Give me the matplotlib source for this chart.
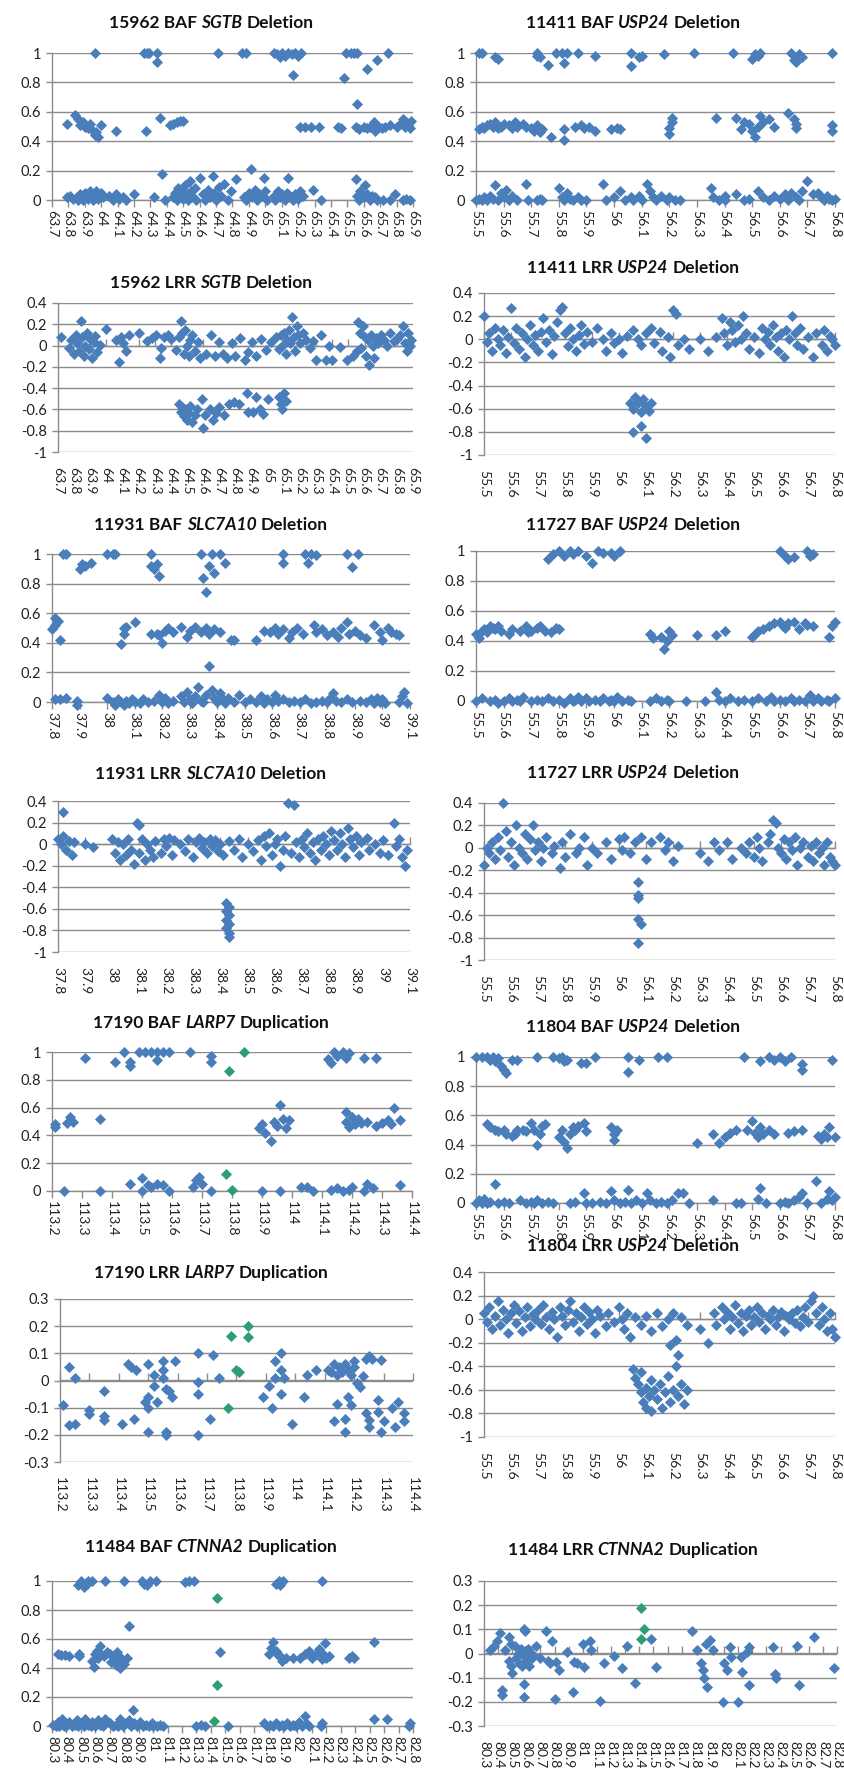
import matplotlib
matplotlib.use("Agg")
import matplotlib.pyplot as plt

plt.rcParams['font.family'] = ['Lato', 'DejaVu Sans']

BLUE = '#4A7EBB'
GREEN = '#2E9E72'
GRID = '#8C8C8C'
TXT = '#222222'

# ---------------- tick labels ----------------
x_sgtb = ['63.7','63.8','63.9','64','64.1','64.2','64.3','64.4','64.5','64.6','64.7','64.8',
          '64.9','65','65.1','65.2','65.3','65.4','65.5','65.6','65.7','65.8','65.9']
x_slc = ['37.8','37.9','38','38.1','38.2','38.3','38.4','38.5','38.6','38.7','38.8','38.9','39','39.1']
x_larp = ['113.2','113.3','113.4','113.5','113.6','113.7','113.8','113.9','114','114.1','114.2','114.3','114.4']
x_ctn = ['80.3','80.4','80.5','80.6','80.7','80.8','80.9','81','81.1','81.2','81.3','81.4','81.5',
         '81.6','81.7','81.8','81.9','82','82.1','82.2','82.3','82.4','82.5','82.6','82.7','82.8']
x_usp = ['55.5','55.6','55.7','55.8','55.9','56','56.1','56.2','56.3','56.4','56.5','56.6','56.7','56.8']
y_baf = ['0','0.2','0.4','0.6','0.8','1']
y_lrr = ['-1','-0.8','-0.6','-0.4','-0.2','0','0.2','0.4']
y_lrr3 = ['-0.3','-0.2','-0.1','0','0.1','0.2','0.3']

# ---------------- data: (position Mb, value) ----------------
baf_15962 = [(63.96,1),(64.26,1),(64.28,1),(64.29,1),(64.34,1),(64.34,0.94),(64.71,1),(64.86,1),(64.88,1),
    (65.05,1),(65.07,0.99),(65.09,0.97),(65.1,1),(65.12,0.98),(65.14,1),(65.16,0.99),(65.18,1),(65.2,0.98),
    (65.22,1),(65.17,0.85),(65.48,0.83),(65.49,1),(65.52,1),(65.54,1),(65.56,1),(65.62,0.89),(65.68,0.95),(65.75,1),
    (63.79,0.52),(63.84,0.58),(63.86,0.55),(63.87,0.51),(63.89,0.53),(63.9,0.5),(63.92,0.49),(63.93,0.52),
    (63.95,0.47),(63.96,0.44),(63.97,0.46),(63.98,0.43),(64.0,0.51),(64.09,0.47),(64.27,0.47),(64.36,0.56),
    (64.42,0.51),(64.44,0.52),(64.46,0.53),(64.48,0.54),(64.5,0.54),(65.21,0.5),(65.24,0.5),(65.28,0.5),
    (65.33,0.5),(65.44,0.5),(65.46,0.49),(65.56,0.65),(65.55,0.5),(65.57,0.48),(65.6,0.5),(65.62,0.49),
    (65.64,0.5),(65.66,0.53),(65.67,0.47),(65.69,0.5),(65.71,0.49),(65.73,0.5),(65.76,0.51),(65.8,0.5),
    (65.82,0.52),(65.84,0.55),(65.85,0.5),(65.86,0.53),(65.87,0.51),(65.88,0.49),(65.89,0.54),
    (63.79,0.02),(63.81,0.03),(63.83,0.01),(63.85,0.02),(63.86,0.0),(63.87,0.04),(63.88,0.02),(63.89,0.0),
    (63.9,0.05),(63.91,0.03),(63.92,0.01),(63.93,0.06),(63.94,0.02),(63.95,0.0),(63.96,0.04),(63.97,0.06),
    (63.98,0.01),(63.99,0.03),(64.0,0.05),(64.01,0.02),(64.05,0.03),(64.07,0.0),(64.09,0.04),(64.11,0.01),
    (64.13,0.02),(64.15,0.0),(64.2,0.04),(64.32,0.02),(64.37,0.18),(64.39,0.0),(64.44,0.02),(64.45,0.05),
    (64.46,0.0),(64.47,0.08),(64.48,0.03),(64.49,0.06),(64.5,0.01),(64.51,0.1),(64.52,0.04),(64.53,0.0),
    (64.54,0.13),(64.55,0.06),(64.56,0.02),(64.57,0.08),(64.58,0.0),(64.6,0.15),(64.62,0.04),(64.63,0.0),
    (64.65,0.07),(64.66,0.02),(64.68,0.16),(64.69,0.05),(64.7,0.0),(64.72,0.09),(64.73,0.03),(64.75,0.11),
    (64.77,0.0),(64.79,0.06),(64.82,0.14),(64.87,0.02),(64.88,0.0),(64.9,0.05),(64.91,0.21),(64.92,0.02),
    (64.94,0.07),(64.95,0.0),(64.96,0.04),(64.98,0.03),(64.99,0.15),(65.0,0.06),(65.01,0.0),(65.05,0.03),
    (65.06,0.0),(65.08,0.06),(65.09,0.02),(65.1,0.04),(65.12,0.0),(65.13,0.05),(65.14,0.15),(65.15,0.02),
    (65.17,0.0),(65.18,0.04),(65.2,0.01),(65.21,0.06),(65.23,0.03),(65.29,0.07),(65.34,0.0),(65.55,0.14),
    (65.56,0.03),(65.57,0.0),(65.58,0.06),(65.6,0.02),(65.61,0.1),(65.62,0.04),(65.64,0.0),(65.65,0.03),
    (65.67,0.02),(65.68,0.0),(65.72,0.0),(65.76,0.0),(65.79,0.04),(65.84,0.0),(65.86,0.01),(65.88,0.0)]

lrr_15962 = [(63.72,0.08),(63.77,-0.02),(63.78,0.05),(63.8,-0.08),(63.81,0.1),(63.82,0.02),(63.83,-0.05),
    (63.84,0.23),(63.85,0.08),(63.86,-0.1),(63.87,0.0),(63.88,0.12),(63.89,-0.03),(63.9,0.06),(63.91,-0.12),
    (63.92,0.03),(63.93,0.09),(63.94,-0.06),(63.96,0.01),(64.0,0.16),(64.06,0.05),(64.08,-0.15),(64.09,0.08),
    (64.1,0.02),(64.12,-0.05),(64.14,0.1),(64.2,0.12),(64.25,0.04),(64.28,0.07),(64.31,0.1),(64.33,-0.12),
    (64.34,-0.02),(64.36,0.08),(64.38,0.1),(64.4,0.06),(64.43,-0.04),(64.45,0.08),(64.46,0.23),(64.47,0.12),
    (64.48,-0.08),(64.49,0.15),(64.5,0.0),(64.51,-0.1),(64.52,0.05),(64.53,0.1),(64.55,-0.05),(64.57,0.03),
    (64.58,-0.12),(64.62,-0.08),(64.65,0.1),(64.67,-0.1),(64.7,0.03),(64.72,-0.08),(64.75,-0.12),(64.78,0.02),
    (64.8,-0.1),(64.83,0.07),(64.86,-0.14),(64.88,-0.06),(64.9,0.03),(64.93,-0.1),(64.96,0.06),(64.99,-0.04),
    (65.02,0.03),(65.05,0.08),(65.07,-0.03),(65.08,0.1),(65.09,0.0),(65.1,0.12),(65.11,-0.08),(65.12,0.05),
    (65.13,0.15),(65.14,0.02),(65.15,0.27),(65.16,0.08),(65.17,-0.05),(65.18,0.18),(65.19,0.1),(65.2,0.02),
    (65.22,0.12),(65.24,0.05),(65.26,-0.02),(65.28,0.04),(65.3,-0.14),(65.33,0.1),(65.36,-0.14),(65.38,0.0),
    (65.4,-0.14),(65.45,-0.01),(65.49,-0.14),(65.53,-0.1),(65.55,-0.05),(65.56,0.22),(65.57,0.12),(65.58,-0.02),
    (65.59,0.18),(65.6,0.08),(65.61,-0.1),(65.62,0.05),(65.63,-0.18),(65.64,0.1),(65.65,0.0),(65.66,-0.12),
    (65.67,0.07),(65.68,0.02),(65.7,0.1),(65.72,0.05),(65.74,0.0),(65.76,0.12),(65.78,0.04),(65.8,0.06),
    (65.82,0.1),(65.84,0.18),(65.85,0.02),(65.86,-0.05),(65.87,0.12),(65.88,0.0),(65.89,0.05),
    (64.45,-0.55),(64.46,-0.62),(64.47,-0.58),(64.48,-0.66),(64.49,-0.6),(64.5,-0.7),(64.51,-0.63),
    (64.52,-0.57),(64.53,-0.72),(64.55,-0.65),(64.56,-0.6),(64.59,-0.5),(64.6,-0.77),(64.61,-0.65),
    (64.64,-0.6),(64.66,-0.7),(64.68,-0.63),(64.7,-0.58),(64.73,-0.65),(64.76,-0.55),(64.79,-0.53),
    (64.82,-0.55),(64.87,-0.45),(64.88,-0.62),(64.91,-0.62),(64.93,-0.48),(64.95,-0.6),(64.97,-0.64),
    (65.0,-0.5),(65.07,-0.48),(65.08,-0.55),(65.09,-0.6),(65.1,-0.45),(65.11,-0.52)]

baf_11931 = [(37.84,1.0),(37.85,1.0),(37.9,0.9),(37.91,0.93),(37.92,0.92),(37.94,0.94),(38.0,1.0),(38.02,1.0),
    (38.03,1.0),(38.16,1.0),(38.16,0.92),(38.17,0.9),(38.18,0.93),(38.19,0.85),(38.34,1.0),(38.35,0.84),
    (38.36,0.74),(38.37,0.92),(38.38,1.0),(38.39,0.87),(38.41,1.0),(38.43,0.94),(38.64,0.94),(38.64,1.0),
    (38.72,1.0),(38.73,0.94),(38.74,1.0),(38.76,0.99),(38.87,1.0),(38.89,0.91),(38.91,1.0),
    (37.8,0.49),(37.81,0.57),(37.81,0.52),(37.82,0.55),(37.83,0.42),(38.05,0.39),(38.06,0.46),(38.06,0.5),
    (38.07,0.51),(38.1,0.54),(38.16,0.46),(38.18,0.46),(38.19,0.45),(38.2,0.4),(38.21,0.48),(38.22,0.5),
    (38.24,0.47),(38.27,0.51),(38.29,0.44),(38.3,0.48),(38.32,0.51),(38.34,0.47),(38.36,0.5),(38.37,0.46),
    (38.39,0.49),(38.41,0.47),(38.45,0.42),(38.46,0.42),(38.54,0.42),(38.57,0.48),(38.59,0.47),(38.61,0.5),
    (38.62,0.46),(38.64,0.49),(38.66,0.43),(38.67,0.47),(38.69,0.5),(38.71,0.46),(38.75,0.52),(38.76,0.47),
    (38.78,0.49),(38.8,0.45),(38.82,0.47),(38.84,0.44),(38.85,0.5),(38.87,0.54),(38.88,0.46),(38.9,0.48),
    (38.92,0.45),(38.94,0.43),(38.97,0.52),(38.99,0.47),(39.0,0.42),(39.02,0.5),(39.03,0.47),(39.05,0.46),
    (39.06,0.45),
    (37.81,0.02),(37.83,0.02),(37.85,0.03),(37.89,0.01),(37.89,-0.02),(38.0,0.03),(38.02,0.0),(38.03,-0.02),
    (38.04,0.02),(38.05,0.0),(38.06,-0.02),(38.07,0.01),(38.08,-0.01),(38.09,0.02),(38.1,0.0),(38.12,-0.01),
    (38.13,0.02),(38.15,0.0),(38.17,0.01),(38.19,0.05),(38.2,0.0),(38.21,0.03),(38.22,-0.01),(38.24,0.01),
    (38.27,0.04),(38.28,0.0),(38.29,0.07),(38.3,0.02),(38.31,-0.01),(38.32,0.04),(38.33,0.1),(38.34,0.01),
    (38.35,0.0),(38.36,0.05),(38.37,0.24),(38.38,0.08),(38.39,0.03),(38.4,0.0),(38.41,0.06),(38.42,0.02),
    (38.43,-0.01),(38.44,0.03),(38.46,0.0),(38.48,0.05),(38.5,0.0),(38.52,0.02),(38.54,0.0),(38.56,0.04),
    (38.57,-0.01),(38.58,0.02),(38.6,0.0),(38.61,0.05),(38.62,0.01),(38.64,0.02),(38.66,0.0),(38.68,0.01),
    (38.7,0.0),(38.72,0.02),(38.74,-0.01),(38.76,0.0),(38.78,0.01),(38.8,0.0),(38.81,0.03),(38.82,0.06),
    (38.83,0.01),(38.85,0.0),(38.87,0.02),(38.89,0.0),(38.92,0.01),(38.94,0.0),(38.96,0.02),(38.97,-0.01),
    (38.98,0.03),(38.99,0.0),(39.0,0.02),(39.01,-0.01),(39.06,0.0),(39.07,0.04),(39.08,0.07),(39.09,-0.01)]

lrr_11931 = [(37.8,0.05),(37.81,0.0),(37.82,0.3),(37.82,0.08),(37.83,-0.05),(37.84,0.03),(37.85,-0.1),
    (37.86,0.02),(37.9,0.0),(37.93,-0.03),(38.0,0.05),(38.01,-0.08),(38.02,0.02),(38.03,-0.15),(38.04,0.0),
    (38.05,-0.1),(38.06,0.05),(38.07,-0.05),(38.08,-0.18),(38.09,0.2),(38.1,0.18),(38.1,-0.08),(38.11,0.05),
    (38.12,-0.15),(38.13,0.0),(38.14,-0.05),(38.15,-0.12),(38.16,0.03),(38.18,-0.08),(38.19,0.05),(38.2,-0.02),
    (38.21,0.06),(38.22,-0.1),(38.23,0.04),(38.25,0.0),(38.27,-0.06),(38.28,0.05),(38.3,-0.12),(38.31,0.02),
    (38.32,0.06),(38.33,-0.04),(38.34,0.02),(38.35,-0.08),(38.36,0.05),(38.37,-0.02),(38.38,0.04),(38.39,-0.06),
    (38.4,0.0),(38.41,-0.1),(38.43,0.03),(38.45,-0.05),(38.47,0.05),(38.48,-0.12),(38.5,0.0),(38.52,-0.06),
    (38.54,0.04),(38.55,-0.15),(38.56,0.08),(38.57,-0.02),(38.58,0.1),(38.59,-0.1),(38.6,0.0),(38.61,0.05),
    (38.62,-0.2),(38.63,-0.05),(38.64,0.08),(38.65,0.38),(38.67,0.36),(38.66,-0.08),(38.68,0.02),(38.69,-0.12),
    (38.7,0.05),(38.71,-0.03),(38.72,0.1),(38.73,-0.08),(38.74,0.02),(38.75,-0.15),(38.76,0.05),(38.77,-0.05),
    (38.78,0.08),(38.79,0.0),(38.8,-0.1),(38.81,0.12),(38.82,0.04),(38.83,-0.05),(38.84,0.1),(38.85,0.0),
    (38.86,-0.12),(38.87,0.15),(38.88,0.05),(38.89,-0.03),(38.9,0.08),(38.91,-0.1),(38.92,0.02),(38.94,0.06),
    (38.95,-0.05),(38.97,0.0),(38.99,-0.08),(39.0,0.04),(39.02,-0.1),(39.04,0.2),(39.05,-0.02),(39.06,0.05),
    (39.07,-0.12),(39.08,-0.2),(39.09,-0.05),
    (38.42,-0.55),(38.43,-0.58),(38.42,-0.62),(38.43,-0.66),(38.42,-0.7),(38.43,-0.74),(38.42,-0.78),
    (38.43,-0.82),(38.43,-0.86)]

baf_17190 = [(113.21,0.46),(113.21,0.48),(113.25,0.49),(113.26,0.53),(113.27,0.5),(113.24,0.0),(113.31,0.96),
    (113.36,0.0),(113.36,0.52),(113.41,0.93),(113.44,1.0),(113.46,0.9),(113.46,0.93),(113.46,0.05),
    (113.49,1.0),(113.51,1.0),(113.5,0.0),(113.5,0.09),(113.52,0.04),(113.53,1.0),(113.55,1.0),(113.55,0.94),
    (113.57,1.0),(113.59,1.0),(113.53,0.03),(113.55,0.05),(113.57,0.04),(113.59,0.0),(113.66,1.0),
    (113.67,0.03),(113.68,0.08),(113.69,0.1),(113.7,0.05),(113.73,0.0),(113.73,0.93),(113.73,0.97),
    (113.89,0.45),(113.9,0.48),(113.91,0.42),(113.93,0.36),(113.9,0.0),(113.94,0.5),(113.95,0.47),
    (113.96,0.62),(113.97,0.52),(113.98,0.45),(113.96,0.0),(113.99,0.51),(114.03,0.03),(114.05,0.03),
    (114.07,0.0),(114.12,0.95),(114.13,0.92),(114.14,1.0),(114.15,0.97),(114.17,1.0),(114.18,0.96),
    (114.19,0.99),(114.13,0.01),(114.15,0.02),(114.17,0.0),(114.19,0.01),(114.2,0.03),(114.18,0.57),
    (114.18,0.5),(114.19,0.46),(114.2,0.53),(114.21,0.48),(114.22,0.52),(114.23,0.49),(114.25,0.5),
    (114.24,0.96),(114.24,0.0),(114.25,0.05),(114.27,0.02),(114.28,0.96),(114.28,0.47),(114.3,0.49),
    (114.32,0.51),(114.33,0.48),(114.34,0.6),(114.36,0.51),(114.36,0.04)]
baf_17190_g = [(113.79,0.86),(113.78,0.12),(113.8,0.01),(113.84,1.0)]

lrr_17190 = [(113.21,-0.09),(113.23,0.05),(113.25,0.01),(113.23,-0.165),(113.25,-0.16),(113.3,-0.11),
    (113.3,-0.125),(113.35,-0.04),(113.35,-0.13),(113.35,-0.145),(113.41,-0.16),(113.43,0.06),(113.44,0.05),
    (113.46,0.04),(113.45,-0.14),(113.5,0.06),(113.49,-0.08),(113.5,-0.1),(113.5,-0.06),(113.5,-0.19),
    (113.52,0.02),(113.52,-0.02),(113.53,-0.08),(113.55,0.07),(113.55,0.04),(113.55,0.01),(113.56,-0.03),
    (113.56,-0.19),(113.56,-0.2),(113.57,-0.04),(113.58,-0.06),(113.59,0.07),(113.67,0.1),(113.67,-0.005),
    (113.67,-0.05),(113.67,-0.2),(113.71,-0.14),(113.72,0.095),(113.74,0.01),(113.89,-0.06),(113.92,-0.1),
    (113.91,-0.02),(113.93,0.01),(113.93,0.07),(113.95,0.1),(113.95,0.04),(113.95,-0.05),(113.96,0.01),
    (113.99,-0.16),(114.03,-0.06),(114.04,0.02),(114.07,0.04),(114.11,0.04),(114.12,0.03),(114.13,0.06),
    (114.14,0.02),(114.15,0.05),(114.16,0.03),(114.17,0.06),(114.18,0.04),(114.19,0.02),(114.2,0.05),
    (114.13,-0.15),(114.14,-0.085),(114.17,-0.14),(114.17,-0.19),(114.18,-0.06),(114.19,-0.09),
    (114.2,0.07),(114.21,-0.01),(114.22,-0.025),(114.23,0.015),(114.24,0.08),(114.25,0.09),(114.26,0.08),
    (114.24,-0.12),(114.25,-0.17),(114.25,-0.145),(114.28,-0.115),(114.28,-0.07),(114.29,-0.19),
    (114.29,0.075),(114.3,-0.15),(114.33,-0.1),(114.34,-0.17),(114.35,-0.08),(114.37,-0.12),(114.37,-0.15)]
lrr_17190_g = [(113.78,0.165),(113.77,-0.1),(113.8,0.04),(113.81,0.03),(113.84,0.2),(113.84,0.16)]

baf_11484 = [(80.48,0.97),(80.5,1.0),(80.52,0.96),(80.54,0.98),(80.55,1.0),(80.58,1.0),(80.67,1.0),(80.8,1.0),
    (80.92,1.0),(80.94,0.98),(80.96,0.97),(80.98,1.0),(81.02,1.0),(81.22,0.99),(81.25,1.0),(81.28,1.0),
    (81.85,0.98),(81.87,1.0),(81.88,0.97),(81.9,1.0),(82.17,1.0),
    (80.34,0.5),(80.36,0.49),(80.39,0.49),(80.42,0.48),(80.49,0.5),(80.49,0.48),(80.58,0.45),(80.59,0.41),
    (80.6,0.5),(80.61,0.52),(80.62,0.47),(80.63,0.55),(80.64,0.5),(80.66,0.48),(80.68,0.51),(80.7,0.5),
    (80.71,0.44),(80.72,0.48),(80.74,0.42),(80.75,0.51),(80.76,0.45),(80.77,0.4),(80.78,0.47),(80.8,0.43),
    (80.82,0.47),(80.83,0.69),(81.46,0.51),(81.8,0.5),(81.82,0.54),(81.83,0.58),(81.85,0.52),(81.86,0.5),
    (81.88,0.48),(81.89,0.45),(81.92,0.47),(81.97,0.47),(82.02,0.47),(82.05,0.5),(82.08,0.52),(82.1,0.47),
    (82.13,0.5),(82.15,0.53),(82.17,0.46),(82.18,0.5),(82.19,0.57),(82.2,0.47),(82.22,0.48),(82.36,0.47),
    (82.38,0.48),(82.39,0.47),(82.53,0.58),
    (80.31,0.01),(80.33,0.0),(80.34,0.03),(80.35,0.0),(80.36,0.02),(80.37,0.05),(80.38,0.0),(80.39,0.02),
    (80.4,0.0),(80.42,0.03),(80.44,0.0),(80.46,0.01),(80.47,0.04),(80.48,0.0),(80.5,0.02),(80.52,0.0),
    (80.53,0.05),(80.55,0.01),(80.57,0.0),(80.58,0.03),(80.6,0.0),(80.62,0.04),(80.63,0.01),(80.65,0.0),
    (80.67,0.05),(80.7,0.02),(80.72,0.0),(80.74,0.01),(80.76,0.0),(80.77,0.05),(80.79,0.0),(80.81,0.02),
    (80.83,0.04),(80.85,0.0),(80.86,0.11),(80.87,0.02),(80.89,0.0),(80.91,0.03),(80.93,0.0),(80.95,0.01),
    (80.97,0.0),(80.99,0.02),(81.0,0.0),(81.03,0.0),(81.05,0.01),(81.07,0.0),(81.3,0.0),(81.33,0.01),
    (81.36,0.0),(81.52,0.0),(81.77,0.02),(81.79,0.0),(81.81,0.01),(81.83,0.0),(81.85,0.02),(81.87,0.0),
    (81.89,0.01),(81.91,0.0),(81.93,0.02),(81.95,0.0),(81.97,0.01),(81.99,0.0),(82.01,0.03),(82.03,0.0),
    (82.05,0.07),(82.06,0.02),(82.08,0.0),(82.16,0.0),(82.17,0.02),(82.53,0.05),(82.62,0.05),(82.77,0.0),
    (82.78,0.02)]
baf_11484_g = [(81.44,0.885),(81.44,0.28),(81.42,0.035)]

lrr_11484 = [(80.34,0.015),(80.37,0.03),(80.39,0.05),(80.41,0.085),(80.43,-0.15),(80.43,-0.17),(80.45,0.015),
    (80.48,0.07),(80.49,0.04),(80.48,-0.03),(80.49,-0.05),(80.5,-0.08),(80.52,0.03),(80.53,-0.02),
    (80.54,0.0),(80.55,-0.04),(80.56,0.02),(80.57,-0.05),(80.58,-0.01),(80.59,0.01),(80.6,-0.03),
    (80.61,0.02),(80.62,-0.05),(80.63,0.0),(80.64,-0.02),(80.58,0.1),(80.59,0.095),(80.58,-0.125),
    (80.58,-0.18),(80.65,-0.005),(80.67,0.03),(80.7,-0.02),(80.74,0.095),(80.75,-0.03),(80.77,-0.04),
    (80.78,0.05),(80.8,-0.19),(80.81,-0.035),(80.83,-0.07),(80.89,0.005),(80.93,-0.16),(80.94,-0.035),
    (80.96,-0.04),(81.0,0.04),(81.01,-0.055),(81.05,0.05),(81.06,0.015),(81.12,-0.195),(81.15,-0.04),
    (81.22,-0.01),(81.28,-0.06),(81.31,0.03),(81.37,-0.12),(81.48,0.06),(81.52,-0.055),(81.77,0.095),
    (81.81,0.015),(81.84,-0.04),(81.85,-0.07),(81.86,-0.1),(81.88,-0.14),(81.87,0.04),(81.9,0.055),
    (81.92,0.015),(81.99,-0.2),(82.0,-0.04),(82.02,-0.07),(82.04,0.025),(82.05,-0.015),(82.1,-0.2),
    (82.12,-0.015),(82.13,-0.075),(82.16,0.005),(82.18,0.025),(82.18,-0.13),(82.35,0.025),(82.36,-0.085),
    (82.37,-0.1),(82.52,0.03),(82.53,-0.13),(82.64,0.07),(82.78,-0.06)]
lrr_11484_g = [(81.41,0.19),(81.43,0.1),(81.41,0.06)]

baf_11411 = [(55.51,1.0),(55.52,1.0),(55.57,0.97),(55.58,0.96),(55.72,0.98),(55.72,1.0),(55.73,0.97),
    (55.76,0.92),(55.79,1.0),(55.81,1.0),(55.82,0.93),(55.83,1.0),(55.87,1.0),(55.93,0.98),(56.06,0.91),
    (56.06,1.0),(56.09,0.97),(56.1,0.98),(56.18,0.99),(56.29,1.0),(56.43,1.0),(56.5,0.96),(56.51,0.99),
    (56.52,0.98),(56.53,1.0),(56.64,1.0),(56.65,0.95),(56.66,0.94),(56.67,0.99),(56.68,0.97),(56.79,1.0),
    (55.51,0.48),(55.52,0.5),(55.53,0.49),(55.54,0.51),(55.55,0.52),(55.56,0.5),(55.57,0.53),(55.58,0.49),
    (55.59,0.5),(55.6,0.52),(55.62,0.51),(55.63,0.49),(55.64,0.53),(55.65,0.5),(55.67,0.52),(55.68,0.5),
    (55.7,0.49),(55.71,0.47),(55.72,0.51),(55.73,0.46),(55.74,0.48),(55.77,0.43),(55.82,0.48),(55.82,0.41),
    (55.86,0.5),(55.88,0.51),(55.89,0.49),(55.91,0.5),(55.93,0.47),(55.99,0.48),(56.01,0.49),(56.02,0.48),
    (56.2,0.45),(56.2,0.49),(56.21,0.53),(56.21,0.56),(56.37,0.56),(56.44,0.56),(56.46,0.48),(56.47,0.53),
    (56.49,0.52),(56.5,0.47),(56.51,0.43),(56.52,0.5),(56.53,0.57),(56.54,0.53),(56.56,0.55),(56.58,0.5),
    (56.63,0.59),(56.65,0.55),(56.66,0.49),(56.66,0.52),(56.79,0.51),(56.79,0.47),
    (55.5,0.0),(55.51,0.01),(55.52,0.0),(55.53,0.02),(55.54,0.0),(55.55,0.03),(55.56,0.01),(55.57,0.1),
    (55.58,0.0),(55.59,0.05),(55.6,0.02),(55.61,0.07),(55.62,0.0),(55.63,0.03),(55.65,0.0),(55.68,0.11),
    (55.69,0.0),(55.72,0.0),(55.73,0.01),(55.74,0.0),(55.8,0.08),(55.81,0.02),(55.82,0.0),(55.83,0.05),
    (55.84,0.01),(55.85,0.0),(55.87,0.02),(55.88,0.0),(55.9,0.0),(55.96,0.11),(55.97,0.0),(56.0,0.02),
    (56.02,0.06),(56.04,0.0),(56.06,0.02),(56.07,0.0),(56.09,0.03),(56.1,0.0),(56.12,0.11),(56.13,0.06),
    (56.14,0.02),(56.15,0.0),(56.17,0.03),(56.19,0.0),(56.2,0.02),(56.22,0.0),(56.24,0.0),(56.35,0.08),
    (56.36,0.02),(56.38,0.0),(56.4,0.03),(56.4,0.0),(56.44,0.04),(56.47,0.0),(56.49,0.01),(56.52,0.06),
    (56.54,0.02),(56.56,0.0),(56.58,0.03),(56.6,0.01),(56.62,0.04),(56.63,0.0),(56.64,0.05),(56.66,0.02),
    (56.67,0.0),(56.68,0.06),(56.7,0.13),(56.72,0.04),(56.74,0.05),(56.75,0.02),(56.76,0.0),(56.77,0.03),
    (56.78,0.01),(56.79,0.0),(56.8,0.01)]

lrr_11411 = [(55.5,0.2),(55.51,-0.02),(55.52,0.05),(55.53,-0.1),(55.54,0.1),(55.55,0.0),(55.56,-0.05),
    (55.57,0.08),(55.58,-0.12),(55.59,0.02),(55.6,0.27),(55.61,-0.03),(55.62,0.1),(55.63,-0.08),(55.64,0.05),
    (55.65,-0.15),(55.66,0.0),(55.67,0.12),(55.68,-0.05),(55.69,0.04),(55.7,-0.1),(55.71,0.06),(55.72,0.18),
    (55.73,-0.02),(55.74,0.08),(55.75,-0.13),(55.76,0.03),(55.77,0.15),(55.78,0.25),(55.79,0.28),(55.8,0.05),
    (55.81,-0.06),(55.82,0.1),(55.83,0.0),(55.84,-0.1),(55.85,0.04),(55.86,0.12),(55.87,-0.04),(55.88,0.06),
    (55.9,-0.02),(55.92,0.1),(55.94,0.0),(55.95,-0.1),(55.97,0.05),(55.98,-0.03),(56.0,0.0),(56.01,-0.12),
    (56.03,0.03),(56.05,0.08),(56.07,0.0),(56.08,-0.05),(56.1,0.05),(56.12,0.1),(56.13,-0.03),(56.15,0.06),
    (56.16,-0.1),(56.18,0.02),(56.19,-0.15),(56.2,0.25),(56.21,0.22),(56.22,-0.05),(56.24,0.0),(56.26,-0.08),
    (56.3,0.0),(56.33,-0.1),(56.36,0.02),(56.38,0.18),(56.39,0.05),(56.4,-0.05),(56.41,0.15),(56.42,0.08),
    (56.43,-0.02),(56.44,0.12),(56.45,0.0),(56.46,0.2),(56.47,0.05),(56.48,-0.08),(56.5,0.02),(56.52,-0.12),
    (56.53,0.1),(56.54,0.0),(56.55,0.06),(56.56,-0.05),(56.57,0.12),(56.58,0.02),(56.59,-0.1),(56.6,0.05),
    (56.61,-0.15),(56.62,0.08),(56.63,0.0),(56.64,0.2),(56.65,0.05),(56.66,-0.05),(56.67,0.1),(56.68,-0.08),
    (56.7,0.02),(56.72,-0.15),(56.73,0.05),(56.75,-0.05),(56.76,0.08),(56.77,-0.1),(56.78,0.03),(56.79,0.0),
    (56.8,-0.05),
    (56.04,-0.55),(56.05,-0.6),(56.05,-0.8),(56.06,-0.5),(56.07,-0.55),(56.08,-0.63),(56.08,-0.75),
    (56.09,-0.52),(56.1,-0.58),(56.1,-0.85),(56.11,-0.62),(56.12,-0.55)]

baf_11727 = [(55.76,0.95),(55.78,0.98),(55.8,1.0),(55.82,0.97),(55.84,1.0),(55.85,0.98),(55.87,1.0),
    (55.9,0.97),(55.92,0.92),(55.94,1.0),(55.96,0.99),(55.99,0.99),(56.0,0.97),(56.02,1.0),(56.6,1.0),
    (56.62,0.97),(56.63,0.95),(56.65,0.96),(56.7,1.0),(56.71,0.97),(56.72,0.98),
    (55.5,0.45),(55.51,0.42),(55.52,0.47),(55.53,0.48),(55.54,0.46),(55.55,0.5),(55.56,0.49),(55.57,0.48),
    (55.58,0.5),(55.59,0.47),(55.62,0.45),(55.63,0.48),(55.66,0.47),(55.68,0.5),(55.69,0.46),(55.7,0.47),
    (55.72,0.49),(55.73,0.5),(55.75,0.47),(55.77,0.46),(55.79,0.49),(55.8,0.48),(56.13,0.45),(56.14,0.42),
    (56.17,0.43),(56.18,0.35),(56.19,0.4),(56.2,0.47),(56.21,0.44),(56.3,0.44),(56.37,0.44),(56.4,0.47),
    (56.5,0.43),(56.51,0.45),(56.52,0.47),(56.54,0.48),(56.56,0.5),(56.58,0.52),(56.6,0.53),(56.61,0.5),
    (56.62,0.49),(56.63,0.52),(56.65,0.53),(56.67,0.48),(56.69,0.52),(56.7,0.51),(56.72,0.5),(56.78,0.43),
    (56.79,0.5),(56.8,0.53),
    (55.5,0.0),(55.52,0.02),(55.55,0.0),(55.57,0.01),(55.58,-0.01),(55.6,0.0),(55.62,0.02),(55.63,0.0),
    (55.65,0.01),(55.66,0.0),(55.67,0.03),(55.7,0.0),(55.72,0.01),(55.74,0.0),(55.76,0.02),(55.78,0.0),
    (55.8,0.01),(55.82,-0.01),(55.84,0.02),(55.85,0.0),(55.86,0.01),(55.87,0.03),(55.88,0.0),(55.9,0.02),
    (55.91,0.0),(55.93,0.01),(55.95,0.0),(55.96,0.02),(55.98,0.0),(55.99,0.01),(56.0,0.0),(56.01,0.03),
    (56.03,0.0),(56.05,0.01),(56.06,0.0),(56.13,0.0),(56.15,0.02),(56.17,0.0),(56.19,0.01),(56.2,0.0),
    (56.26,0.0),(56.33,0.0),(56.37,0.06),(56.38,0.01),(56.4,0.0),(56.42,0.02),(56.45,0.0),(56.47,0.01),
    (56.5,0.0),(56.52,0.02),(56.55,0.0),(56.57,0.03),(56.58,0.0),(56.6,0.01),(56.62,0.0),(56.64,0.02),
    (56.65,0.0),(56.67,0.01),(56.69,0.0),(56.71,0.04),(56.72,0.0),(56.74,0.02),(56.75,0.0),(56.77,0.01),
    (56.78,0.0),(56.8,0.02)]

lrr_11727 = [(55.5,-0.15),(55.51,0.0),(55.52,-0.05),(55.53,0.05),(55.54,-0.1),(55.55,0.1),(55.56,-0.02),
    (55.57,0.4),(55.58,0.15),(55.59,-0.08),(55.6,0.05),(55.61,-0.15),(55.62,0.2),(55.63,0.0),(55.64,-0.05),
    (55.65,0.12),(55.66,-0.1),(55.67,0.08),(55.68,0.2),(55.69,-0.02),(55.7,0.05),(55.71,-0.12),(55.72,0.0),
    (55.73,0.1),(55.75,-0.05),(55.76,0.02),(55.78,-0.18),(55.79,0.05),(55.8,-0.08),(55.82,0.12),(55.84,-0.05),
    (55.85,0.0),(55.87,0.1),(55.88,-0.15),(55.9,0.0),(55.92,-0.05),(55.95,0.05),(55.97,-0.1),(56.0,0.08),
    (56.01,-0.02),(56.02,0.1),(56.04,-0.05),(56.06,0.05),(56.08,0.1),(56.1,-0.1),(56.12,0.05),(56.15,0.1),
    (56.17,-0.02),(56.18,0.05),(56.2,-0.12),(56.22,0.02),(56.3,-0.05),(56.33,-0.12),(56.35,0.05),(56.37,-0.02),
    (56.4,0.05),(56.42,-0.1),(56.45,0.0),(56.47,-0.05),(56.48,0.05),(56.5,-0.08),(56.51,0.1),(56.52,0.0),
    (56.53,-0.12),(56.55,0.05),(56.56,0.12),(56.57,0.25),(56.58,0.22),(56.59,0.0),(56.6,-0.05),(56.61,0.08),
    (56.62,-0.1),(56.63,0.05),(56.64,-0.02),(56.65,0.1),(56.66,-0.15),(56.67,0.0),(56.68,0.05),(56.7,-0.08),
    (56.71,0.02),(56.72,-0.12),(56.73,0.05),(56.74,-0.05),(56.75,0.0),(56.76,-0.15),(56.77,0.05),(56.78,-0.08),
    (56.79,-0.12),(56.8,-0.15),
    (56.07,-0.3),(56.07,-0.42),(56.07,-0.45),(56.07,-0.63),(56.08,-0.68),(56.07,-0.85)]

baf_11804 = [(55.5,1.0),(55.52,1.0),(55.54,1.0),(55.55,0.98),(55.56,1.0),(55.57,0.97),(55.58,0.99),
    (55.59,0.94),(55.6,0.91),(55.61,0.89),(55.63,0.98),(55.65,0.98),(55.72,1.0),(55.78,1.0),(55.8,0.99),
    (55.81,1.0),(55.82,0.97),(55.83,0.98),(55.88,0.96),(55.9,0.96),(55.93,1.0),(56.05,1.0),(56.05,0.9),
    (56.09,0.98),(56.16,1.0),(56.19,1.0),(56.47,1.0),(56.53,0.97),(56.56,1.0),(56.58,0.98),(56.6,1.0),
    (56.62,0.97),(56.64,1.0),(56.68,0.95),(56.68,0.91),(56.79,0.98),
    (55.54,0.54),(55.55,0.52),(55.57,0.5),(55.58,0.49),(55.6,0.5),(55.61,0.47),(55.63,0.46),(55.64,0.47),
    (55.65,0.5),(55.67,0.5),(55.68,0.49),(55.7,0.55),(55.71,0.5),(55.72,0.4),(55.73,0.47),(55.74,0.53),
    (55.75,0.54),(55.8,0.45),(55.81,0.5),(55.82,0.42),(55.83,0.38),(55.84,0.47),(55.85,0.52),(55.86,0.5),
    (55.87,0.53),(55.89,0.55),(55.9,0.49),(55.99,0.52),(56.0,0.47),(56.0,0.43),(56.01,0.5),(56.3,0.41),
    (56.36,0.47),(56.38,0.41),(56.4,0.45),(56.42,0.48),(56.44,0.5),(56.48,0.5),(56.5,0.56),(56.51,0.48),
    (56.52,0.45),(56.53,0.52),(56.54,0.47),(56.56,0.5),(56.58,0.47),(56.63,0.48),(56.65,0.49),(56.68,0.5),
    (56.74,0.46),(56.75,0.44),(56.76,0.47),(56.77,0.45),(56.78,0.52),(56.8,0.45),
    (55.5,0.0),(55.51,0.02),(55.52,0.0),(55.53,0.03),(55.54,0.0),(55.55,0.01),(55.57,0.13),(55.58,0.0),
    (55.6,0.01),(55.62,0.0),(55.66,0.02),(55.68,0.0),(55.7,0.01),(55.71,0.0),(55.72,0.02),(55.74,0.0),
    (55.76,0.01),(55.78,0.0),(55.84,0.0),(55.86,0.01),(55.89,0.07),(55.9,0.0),(55.92,0.0),(55.95,0.01),
    (55.97,0.0),(55.99,0.08),(56.0,0.02),(56.02,0.0),(56.04,0.01),(56.05,0.09),(56.06,0.0),(56.08,0.02),
    (56.1,0.0),(56.12,0.07),(56.13,0.02),(56.15,0.0),(56.17,0.01),(56.19,0.0),(56.21,0.02),(56.23,0.07),
    (56.25,0.07),(56.27,0.0),(56.36,0.02),(56.44,0.0),(56.46,0.0),(56.52,0.03),(56.53,0.1),(56.55,0.0),
    (56.6,0.0),(56.62,0.01),(56.63,0.0),(56.65,0.02),(56.67,0.04),(56.68,0.07),(56.7,0.0),(56.73,0.15),
    (56.75,0.0),(56.77,0.03),(56.78,0.08),(56.79,0.02),(56.8,0.04)]

lrr_11804 = [(55.5,0.05),(55.51,-0.02),(55.52,0.1),(55.53,-0.08),(55.54,0.03),(55.55,0.15),(55.56,-0.05),
    (55.57,0.08),(55.58,0.0),(55.59,-0.12),(55.6,0.05),(55.61,0.12),(55.62,-0.03),(55.63,0.07),(55.64,-0.1),
    (55.65,0.02),(55.66,0.1),(55.67,-0.06),(55.68,0.04),(55.69,0.0),(55.7,0.08),(55.71,-0.04),(55.72,0.12),
    (55.73,0.02),(55.74,-0.08),(55.75,0.06),(55.76,0.0),(55.77,-0.15),(55.78,0.1),(55.79,0.03),(55.8,-0.05),
    (55.81,0.08),(55.82,0.15),(55.83,-0.02),(55.84,0.05),(55.85,-0.1),(55.86,0.02),(55.87,0.1),(55.88,-0.04),
    (55.89,0.06),(55.9,0.0),(55.91,-0.12),(55.92,0.08),(55.93,0.03),(55.95,-0.06),(55.96,0.05),(55.98,-0.02),
    (56.0,0.1),(56.01,0.0),(56.02,-0.08),(56.03,0.05),(56.04,-0.15),(56.06,0.02),(56.08,-0.05),(56.1,0.03),
    (56.12,-0.1),(56.14,0.05),(56.16,-0.06),(56.18,0.0),(56.19,-0.22),(56.2,0.05),(56.21,-0.18),(56.22,-0.3),
    (56.23,0.02),(56.25,-0.05),(56.3,-0.08),(56.33,-0.2),(56.35,0.05),(56.36,-0.05),(56.38,0.1),(56.39,0.0),
    (56.4,0.06),(56.41,-0.08),(56.42,0.02),(56.43,0.12),(56.44,-0.03),(56.45,0.05),(56.46,-0.1),(56.47,0.03),
    (56.48,0.08),(56.49,-0.05),(56.5,0.02),(56.51,0.1),(56.52,-0.02),(56.53,0.05),(56.54,-0.08),(56.55,0.03),
    (56.56,0.0),(56.57,0.08),(56.58,-0.05),(56.59,0.02),(56.6,0.06),(56.61,-0.1),(56.62,0.03),(56.63,0.0),
    (56.64,0.05),(56.65,-0.03),(56.66,0.08),(56.67,-0.06),(56.68,0.02),(56.69,0.1),(56.7,-0.02),(56.71,0.15),
    (56.72,0.2),(56.73,0.05),(56.74,-0.05),(56.75,0.1),(56.76,0.0),(56.77,-0.1),(56.78,0.05),(56.79,-0.08),
    (56.8,-0.15),
    (56.05,-0.42),(56.06,-0.5),(56.07,-0.55),(56.08,-0.62),(56.09,-0.7),(56.1,-0.58),(56.1,-0.75),
    (56.11,-0.65),(56.12,-0.52),(56.13,-0.6),(56.14,-0.68),(56.15,-0.55),(56.16,-0.75),(56.17,-0.62),
    (56.18,-0.48),(56.19,-0.7),(56.2,-0.6),(56.21,-0.4),(56.22,-0.65),(56.23,-0.55),(56.24,-0.72),
    (56.25,-0.6),(56.12,-0.78),(56.08,-0.45)]

# ---------------- drawing ----------------
W, H = 844, 1780
fig = plt.figure(figsize=(W / 100, H / 100), dpi=100)
fig.patch.set_facecolor('white')
renderer = fig.canvas.get_renderer()

TKW = dict(fontsize=12.5, fontweight='bold', color='#111111', va='center', ha='left')


def text_w(s, **kw):
    t = fig.text(0, 0, s, **kw)
    w = t.get_window_extent(renderer).width
    t.remove()
    return w


SPACE = text_w('x x', **TKW) - text_w('xx', **TKW)


def title(xc, yc, pre, gene, post):
    yy = 1 - yc / H
    t1 = fig.text(0, yy, pre, **TKW)
    t2 = fig.text(0, yy, gene, style='italic', **TKW)
    t3 = fig.text(0, yy, post, **TKW)
    w = [t.get_window_extent(renderer).width for t in (t1, t2, t3)]
    x0 = xc - (sum(w) + 2 * SPACE) / 2
    t1.set_x(x0 / W)
    t2.set_x((x0 + w[0] + SPACE) / W)
    t3.set_x((x0 + w[0] + w[1] + 2 * SPACE) / W)


def panel(box, ttl, tpos, ylabels, xlabels, pts, gpts=(), xpad=7):
    l, r, t, b = box
    ax = fig.add_axes([l / W, 1 - b / H, (r - l) / W, (b - t) / H])
    xt = [float(s) for s in xlabels]
    yt = [float(s) for s in ylabels]
    ax.set_xlim(xt[0], xt[-1])
    ax.set_ylim(yt[0], yt[-1])
    for s in ('top', 'right', 'bottom'):
        ax.spines[s].set_visible(False)
    ax.spines['left'].set_color(GRID)
    ax.spines['left'].set_linewidth(1.0)
    ax.set_yticks(yt)
    ax.set_yticklabels(ylabels)
    ax.yaxis.grid(True, color=GRID, linewidth=1.0)
    ax.set_axisbelow(True)
    ax.tick_params(axis='y', length=4, width=1, color=GRID, pad=4, labelsize=10.5, labelcolor=TXT)
    ax.set_xticks(xt)
    ax.set_xticklabels(xlabels, rotation=-90, ha='center', va='top')
    ax.tick_params(axis='x', length=0, pad=xpad, labelsize=10, labelcolor=TXT)
    frac = (0 - yt[0]) / (yt[-1] - yt[0])
    sec = ax.secondary_xaxis(frac)
    sec.set_xticks(xt)
    sec.set_xticklabels([])
    sec.tick_params(axis='x', direction='out', length=5, width=1, color=GRID)
    for s in sec.spines.values():
        s.set_color(GRID)
        s.set_linewidth(1.0)
    ax.scatter([p[0] for p in pts], [p[1] for p in pts], marker='D', s=32, color=BLUE,
               linewidths=0, clip_on=False, zorder=3)
    if gpts:
        ax.scatter([p[0] for p in gpts], [p[1] for p in gpts], marker='D', s=32, color=GREEN,
                   linewidths=0, clip_on=False, zorder=4)
    title(tpos[0], tpos[1], *ttl)
    return ax


panel((52, 413, 53, 200), ('15962 BAF', 'SGTB', 'Deletion'), (211, 23), y_baf, x_sgtb, baf_15962)
panel((58, 413, 303, 452), ('15962 LRR', 'SGTB', 'Deletion'), (211, 283), y_lrr, x_sgtb, lrr_15962, xpad=11)
panel((52, 410, 554, 702), ('11931 BAF', 'SLC7A10', 'Deletion'), (211, 525), y_baf, x_slc, baf_11931)
panel((58, 410, 801, 952), ('11931 LRR', 'SLC7A10', 'Deletion'), (211, 774), y_lrr, x_slc, lrr_11931, xpad=11)
panel((52, 412, 1052, 1191), ('17190 BAF', 'LARP7', 'Duplication'), (211, 1023), y_baf, x_larp,
      baf_17190, baf_17190_g)
panel((60, 413, 1299, 1462), ('17190 LRR', 'LARP7', 'Duplication'), (211, 1273), y_lrr3, x_larp,
      lrr_17190, lrr_17190_g, xpad=11)
panel((52, 413, 1581, 1726), ('11484 BAF', 'CTNNA2', 'Duplication'), (211, 1547), y_baf, x_ctn,
      baf_11484, baf_11484_g)

panel((476, 835, 53, 200), ('11411 BAF', 'USP24', 'Deletion'), (633, 23), y_baf, x_usp, baf_11411)
panel((484, 835, 293, 455), ('11411 LRR', 'USP24', 'Deletion'), (633, 268), y_lrr, x_usp, lrr_11411, xpad=11)
panel((476, 835, 551, 701), ('11727 BAF', 'USP24', 'Deletion'), (633, 525), y_baf, x_usp, baf_11727)
panel((484, 835, 803, 960), ('11727 LRR', 'USP24', 'Deletion'), (633, 773), y_lrr, x_usp, lrr_11727, xpad=11)
panel((476, 835, 1057, 1203), ('11804 BAF', 'USP24', 'Deletion'), (633, 1027), y_baf, x_usp, baf_11804)
panel((484, 835, 1272, 1437), ('11804 LRR', 'USP24', 'Deletion'), (633, 1246), y_lrr, x_usp, lrr_11804, xpad=11)
panel((484, 837, 1581, 1726), ('11484 LRR', 'CTNNA2', 'Duplication'), (633, 1550), y_lrr3, x_ctn,
      lrr_11484, lrr_11484_g, xpad=11)

fig.savefig('out.png', dpi=100, facecolor='white')
